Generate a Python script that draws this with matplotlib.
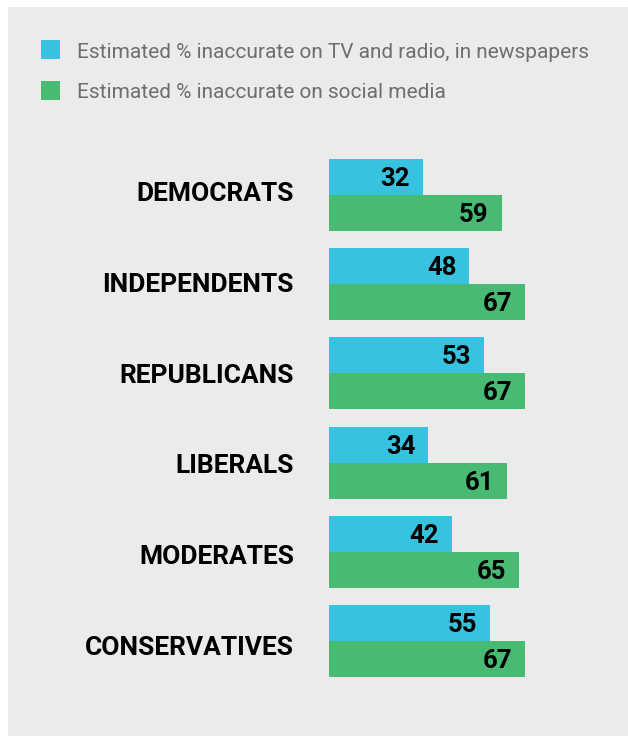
import matplotlib
matplotlib.use("Agg")
import matplotlib.pyplot as plt
from matplotlib.patches import Rectangle
import numpy as np

# Survey groups and the estimated share of news seen as inaccurate
groups = ["DEMOCRATS", "INDEPENDENTS", "REPUBLICANS", "LIBERALS", "MODERATES", "CONSERVATIVES"]
traditional = [32, 48, 53, 34, 42, 55]   # TV and radio, newspapers
social = [59, 67, 67, 61, 65, 67]        # social media
legend_labels = [
    "Estimated % inaccurate on TV and radio, in newspapers",
    "Estimated % inaccurate on social media",
]

BLUE = "#37C3DF"
GREEN = "#48BA74"
PANEL = "#EBEBEB"
W, H = 628, 736
DPI = 100
PT = 72 / DPI  # points per pixel

fig = plt.figure(figsize=(W / DPI, H / DPI), dpi=DPI, facecolor="white")

# light grey panel behind everything
fig.patches.append(Rectangle((8 / W, 0), 1, (H - 7) / H, transform=fig.transFigure,
                             facecolor=PANEL, edgecolor="none", zorder=-5))

# bar area: value axis starts at x=329px, 2.925 px per percentage point
px_per_unit = 2.925
group_step = 89.2
top_px = 195 - 0.5 * group_step
bot_px = 195 + 5.5 * group_step
ax = fig.add_axes([329 / W, (H - bot_px) / H, 100 * px_per_unit / W, (bot_px - top_px) / H])
ax.set_xlim(0, 100)
ax.set_ylim(5.5, -0.5)
ax.axis("off")
ax.patch.set_alpha(0)
ax.set_zorder(1)

bar_h = 36 / group_step
y = np.arange(len(groups))
ax.barh(y - bar_h / 2, traditional, height=bar_h, color=BLUE, linewidth=0)
ax.barh(y + bar_h / 2, social, height=bar_h, color=GREEN, linewidth=0)

value_font = dict(family=["Roboto", "DejaVu Sans"], weight="bold", size=18.5, color="black")
for yi, v in zip(y - bar_h / 2, traditional):
    ax.annotate(str(v), xy=(v, yi), xytext=(-13 * PT, -9 * PT), textcoords="offset points",
                ha="right", va="baseline", annotation_clip=False, **value_font)
for yi, v in zip(y + bar_h / 2, social):
    ax.annotate(str(v), xy=(v, yi), xytext=(-13 * PT, -9 * PT), textcoords="offset points",
                ha="right", va="baseline", annotation_clip=False, **value_font)

# category names, right-aligned left of the bars
label_step = 90.8 / group_step
for i, name in enumerate(groups):
    ax.annotate(name, xy=(0, i * label_step), xytext=(-35 * PT, -6 * PT), textcoords="offset points",
                ha="right", va="baseline", family=["Roboto", "DejaVu Sans"], weight="bold",
                size=19, color="black", annotation_clip=False)

# legend
for k, (lab, col) in enumerate(zip(legend_labels, [BLUE, GREEN])):
    top = 40 + 41 * k
    fig.patches.append(Rectangle((41 / W, 1 - (top + 19) / H), 19 / W, 19 / H,
                                 transform=fig.transFigure, facecolor=col, edgecolor="none", zorder=2))
    fig.text(77 / W, 1 - (top + 17.5) / H, lab, ha="left", va="baseline",
             family=["Roboto", "DejaVu Sans"], weight="normal", size=15, color="#6e6e6e")

fig.savefig("out.png", dpi=DPI, facecolor=fig.get_facecolor())
